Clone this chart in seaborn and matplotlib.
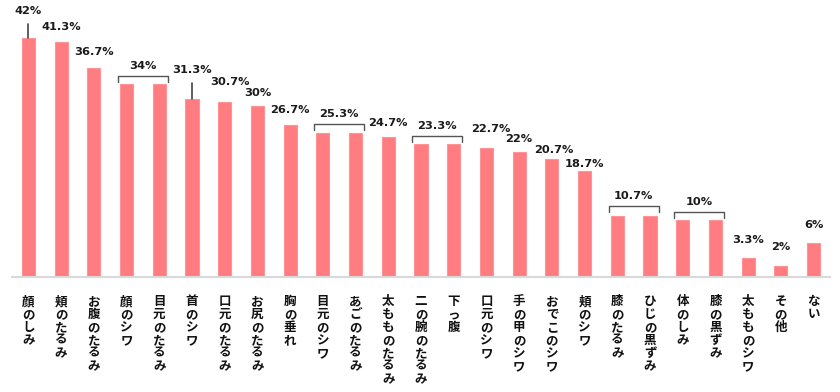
import matplotlib
matplotlib.use("Agg")
import matplotlib.pyplot as plt
import seaborn as sns
import pandas as pd

# 気になる部位（%）
categories = [
    "顔のしみ", "頬のたるみ", "お腹のたるみ", "顔のシワ", "目元のたるみ",
    "首のシワ", "口元のたるみ", "お尻のたるみ", "胸の垂れ", "目元のシワ",
    "あごのたるみ", "太もものたるみ", "二の腕のたるみ", "下っ腹", "口元のシワ",
    "手の甲のシワ", "おでこのシワ", "頬のシワ", "膝のたるみ", "ひじの黒ずみ",
    "体のしみ", "膝の黒ずみ", "太もものシワ", "その他", "ない",
]
values = [42, 41.3, 36.7, 34, 34, 31.3, 30.7, 30, 26.7, 25.3,
          25.3, 24.7, 23.3, 23.3, 22.7, 22, 20.7, 18.7, 10.7, 10.7,
          10, 10, 3.3, 2, 6]
value_labels = ["42%", "41.3%", "36.7%", "34%", "34%", "31.3%", "30.7%", "30%",
                "26.7%", "25.3%", "25.3%", "24.7%", "23.3%", "23.3%", "22.7%",
                "22%", "20.7%", "18.7%", "10.7%", "10.7%", "10%", "10%",
                "3.3%", "2%", "6%"]
# 同率ペア（括弧でまとめる）
pairs = [(3, 4), (9, 10), (12, 13), (18, 19), (20, 21)]

# ラベル位置の微調整（px）: バー上端からの高さ / 横ずれ / 引き出し線の長さ
label_dy = {0: 27, 1: 15, 2: 16, 5: 29, 6: 20, 7: 13, 8: 15, 11: 14,
            14: 19, 15: 13, 16: 9, 17: 7, 22: 18, 23: 19, 24: 18}
label_dx = {6: 5, 14: 4, 16: 2}
leader_len = {0: 14, 5: 16}
bracket_dy = {3: 8, 9: 9, 12: 8, 18: 10, 20: 8}

sns.set_theme(style="white")
plt.rcParams["font.family"] = ["Noto Sans CJK JP", "DejaVu Sans"]

df = pd.DataFrame({"cat": categories, "val": values})

fig = plt.figure(figsize=(8.4, 3.92), dpi=100)
ax = fig.add_axes([12 / 840, 1 - 277 / 392, 818 / 840, 277 / 392])

sns.barplot(data=df, x="cat", y="val", order=categories, color="#ff7c80",
            saturation=1, width=0.4, edgecolor="#ff9497", linewidth=0.8, ax=ax)

ymax = 48.7
ax.set_ylim(0, ymax)
ax.set_xlim(-0.5, len(categories) - 0.5)
px = ymax / 277          # 縦1ピクセル分
pxx = len(categories) / 818  # 横1ピクセル分

for s in ["top", "right", "left"]:
    ax.spines[s].set_visible(False)
ax.spines["bottom"].set_color("#d9d9d9")
ax.spines["bottom"].set_linewidth(1.5)
ax.set_yticks([])
ax.set_xlabel("")
ax.set_ylabel("")

ax.set_xticks(range(len(categories)))
ax.set_xticklabels(["\n".join(c) for c in categories], fontsize=9,
                   fontweight="bold", linespacing=1.0, va="top", color="#111111")
ax.tick_params(axis="x", length=0, pad=13)

paired = {i for p in pairs for i in p}
txt = dict(ha="center", va="center", fontsize=8.2, fontweight="bold",
           color="#1a1a1a", family=["DejaVu Sans"])

for i, (v, lab) in enumerate(zip(values, value_labels)):
    if i in paired:
        continue
    if i in leader_len:
        ax.plot([i, i], [v, v + leader_len[i] * px], color="#444444", lw=1.2)
    ax.text(i + label_dx.get(i, 0) * pxx, v + label_dy.get(i, 15) * px, lab, **txt)

for a, b in pairs:
    v = values[a]
    y1 = v + bracket_dy[a] * px
    y0 = y1 - 6 * px
    xa, xb = a - 0.26, b + 0.26
    ax.plot([xa, xa, xb, xb], [y0, y1, y1, y0], color="#555555", lw=1)
    ax.text((a + b) / 2, y1 + 10 * px, value_labels[a], **txt)

fig.savefig("out.png", dpi=100)
